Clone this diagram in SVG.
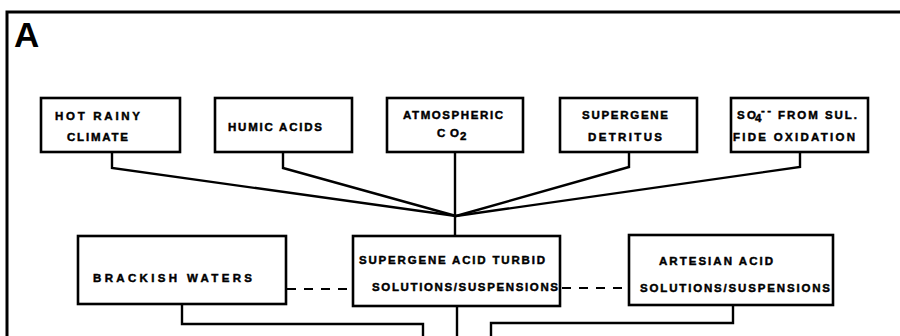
<svg xmlns="http://www.w3.org/2000/svg" width="900" height="336" viewBox="0 0 900 336">
  <style>
    .frame { fill: none; stroke: #000; stroke-width: 3; }
    .box { fill: #fff; stroke: #000; stroke-width: 2.6; }
    .link { fill: none; stroke: #000; stroke-width: 2.4; stroke-linejoin: miter; }
    .dash { fill: none; stroke: #000; stroke-width: 2; stroke-dasharray: 9 8; }
    .lbl { font-family: "Liberation Sans", Arial, sans-serif; font-weight: bold; font-size: 11.5px; fill: #000; stroke: #000; stroke-width: 0.45; }
    .big { font-family: "Liberation Sans", Arial, sans-serif; font-weight: bold; font-size: 35px; fill: #000; }
  </style>
  <rect width="900" height="336" fill="#fff"/>

  <!-- panel frame -->
  <path class="frame" d="M7,336 V12 H900"/>
  <text class="big" x="14" y="47">A</text>

  <!-- connectors -->
  <g id="connectors">
    <path class="link" d="M112,152 V168 L456,216"/>
    <path class="link" d="M283,152 V168 L456,216"/>
    <path class="link" d="M455,152 V236"/>
    <path class="link" d="M629,152 V167 L456,216"/>
    <path class="link" d="M800,152 V167 L456,216"/>
    <path class="dash" d="M287,289 H352"/>
    <path class="dash" d="M562,288 H628"/>
    <path class="link" d="M182,304 V324 H423 V336"/>
    <path class="link" d="M457,306 V336"/>
    <path class="link" d="M733,305 V323 H491 V336"/>
  </g>

  <g id="hot-rainy-climate">
    <rect class="box" x="41" y="98" width="139" height="54"/>
    <text class="lbl" x="55" y="120" textLength="85" lengthAdjust="spacing">HOT  RAINY</text>
    <text class="lbl" x="67" y="141" textLength="61" lengthAdjust="spacing">CLIMATE</text>
  </g>

  <g id="humic-acids">
    <rect class="box" x="215" y="98" width="137" height="54"/>
    <text class="lbl" x="228" y="131" textLength="94" lengthAdjust="spacing">HUMIC ACIDS</text>
  </g>

  <g id="atmospheric-co2">
    <rect class="box" x="387" y="98" width="136" height="54"/>
    <text class="lbl" x="403" y="119" textLength="100" lengthAdjust="spacing">ATMOSPHERIC</text>
    <text class="lbl" x="437" y="137" textLength="22" lengthAdjust="spacing">CO</text>
    <text class="lbl" x="460" y="140" font-size="9">2</text>
  </g>

  <g id="supergene-detritus">
    <rect class="box" x="560" y="98" width="137" height="54"/>
    <text class="lbl" x="582" y="119" textLength="86" lengthAdjust="spacing">SUPERGENE</text>
    <text class="lbl" x="588" y="141" textLength="74" lengthAdjust="spacing">DETRITUS</text>
  </g>

  <g id="sulfide-oxidation">
    <rect class="box" x="731" y="98" width="137" height="54"/>
    <text class="lbl" x="737" y="119" textLength="19" lengthAdjust="spacing">SO</text>
    <text class="lbl" x="755" y="122" font-size="8">4</text>
    <text class="lbl" x="761" y="114" font-size="9" textLength="10" lengthAdjust="spacing">--</text>
    <text class="lbl" x="778" y="119" textLength="79" lengthAdjust="spacing">FROM  SUL.</text>
    <text class="lbl" x="733" y="141" textLength="122" lengthAdjust="spacing">FIDE OXIDATION</text>
  </g>

  <g id="brackish-waters">
    <rect class="box" x="78" y="236" width="208" height="68"/>
    <text class="lbl" x="93" y="282" textLength="159" lengthAdjust="spacing">BRACKISH  WATERS</text>
  </g>

  <g id="supergene-acid-turbid">
    <rect class="box" x="353" y="236" width="207" height="70"/>
    <text class="lbl" x="359" y="264" textLength="186" lengthAdjust="spacing">SUPERGENE ACID TURBID</text>
    <text class="lbl" x="372" y="291" textLength="186" lengthAdjust="spacing">SOLUTIONS/SUSPENSIONS</text>
  </g>

  <g id="artesian-acid">
    <rect class="box" x="629" y="235" width="204" height="70"/>
    <text class="lbl" x="659" y="265" textLength="114" lengthAdjust="spacing">ARTESIAN ACID</text>
    <text class="lbl" x="640" y="292" textLength="190" lengthAdjust="spacing">SOLUTIONS/SUSPENSIONS</text>
  </g>
</svg>
